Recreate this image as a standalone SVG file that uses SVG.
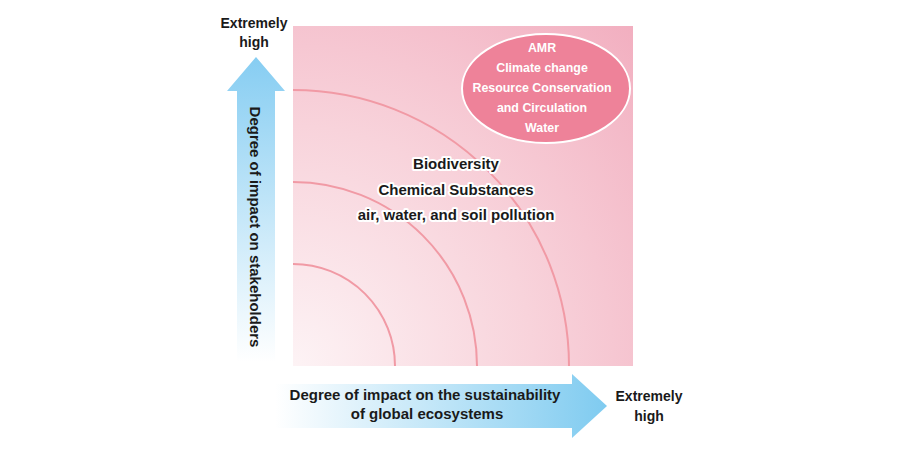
<svg xmlns="http://www.w3.org/2000/svg" width="902" height="456" viewBox="0 0 902 456">
<defs>
<radialGradient id="sq" gradientUnits="userSpaceOnUse" cx="293" cy="366" r="480">
<stop offset="0" stop-color="#fdf3f5"/>
<stop offset="0.5" stop-color="#f8d3db"/>
<stop offset="1" stop-color="#f2afc0"/>
</radialGradient>
<linearGradient id="up" x1="0" y1="0" x2="0" y2="1">
<stop offset="0" stop-color="#86cdf2"/>
<stop offset="1" stop-color="#ffffff"/>
</linearGradient>
<linearGradient id="rt" x1="0" y1="0" x2="1" y2="0">
<stop offset="0" stop-color="#ffffff"/>
<stop offset="1" stop-color="#7fcbf0"/>
</linearGradient>
<style>
text{font-family:"Liberation Sans",Arial,sans-serif;fill:#1a1a1a;text-anchor:middle;font-weight:bold}
.lbl{font-size:14px}
.ax{font-size:15px}
.ell{font-size:12.4px;fill:#ffffff}
.mid{font-size:15px;stroke:#ffffff;stroke-width:4px;stroke-linejoin:round;paint-order:stroke}
.arc{fill:none;stroke:#f19aa5;stroke-width:2}
</style>
</defs>
<g id="field">
<rect x="293" y="26" width="340" height="340" fill="url(#sq)"/>
</g>
<g id="connectors">
<path class="arc" d="M293 264 A102 102 0 0 1 395 366"/>
<path class="arc" d="M293 182 A184 184 0 0 1 477 366"/>
<path class="arc" d="M293 90 A276 276 0 0 1 569 366"/>
</g>
<g id="y-axis">
<polygon points="256,57 285,91 275,91 275,362 237,362 237,91 227,91" fill="url(#up)"/>
<text class="ax" transform="translate(250 227) rotate(90)">Degree of impact on stakeholders</text>
</g>
<g id="y-label">
<text class="lbl" x="254" y="28">Extremely</text>
<text class="lbl" x="254" y="47">high</text>
</g>
<g id="x-axis">
<polygon points="275,384 572,384 572,374 607,406 572,438 572,428 275,428" fill="url(#rt)"/>
<text class="ax" x="425" y="400">Degree of impact on the sustainability</text>
<text class="ax" x="427" y="419">of global ecosystems</text>
</g>
<g id="x-label">
<text class="lbl" x="649" y="401">Extremely</text>
<text class="lbl" x="649" y="421">high</text>
</g>
<g id="high-issues">
<ellipse cx="546" cy="88.5" rx="84" ry="54.5" fill="#ee8299" stroke="#ffffff" stroke-width="2"/>
<text class="ell" x="542" y="52">AMR</text>
<text class="ell" x="542" y="72">Climate change</text>
<text class="ell" x="542" y="92">Resource Conservation</text>
<text class="ell" x="542" y="112">and Circulation</text>
<text class="ell" x="542" y="132">Water</text>
</g>
<g id="mid-issues">
<text class="mid" x="456" y="169">Biodiversity</text>
<text class="mid" x="456" y="195">Chemical Substances</text>
<text class="mid" x="456" y="220">air, water, and soil pollution</text>
</g>
</svg>
